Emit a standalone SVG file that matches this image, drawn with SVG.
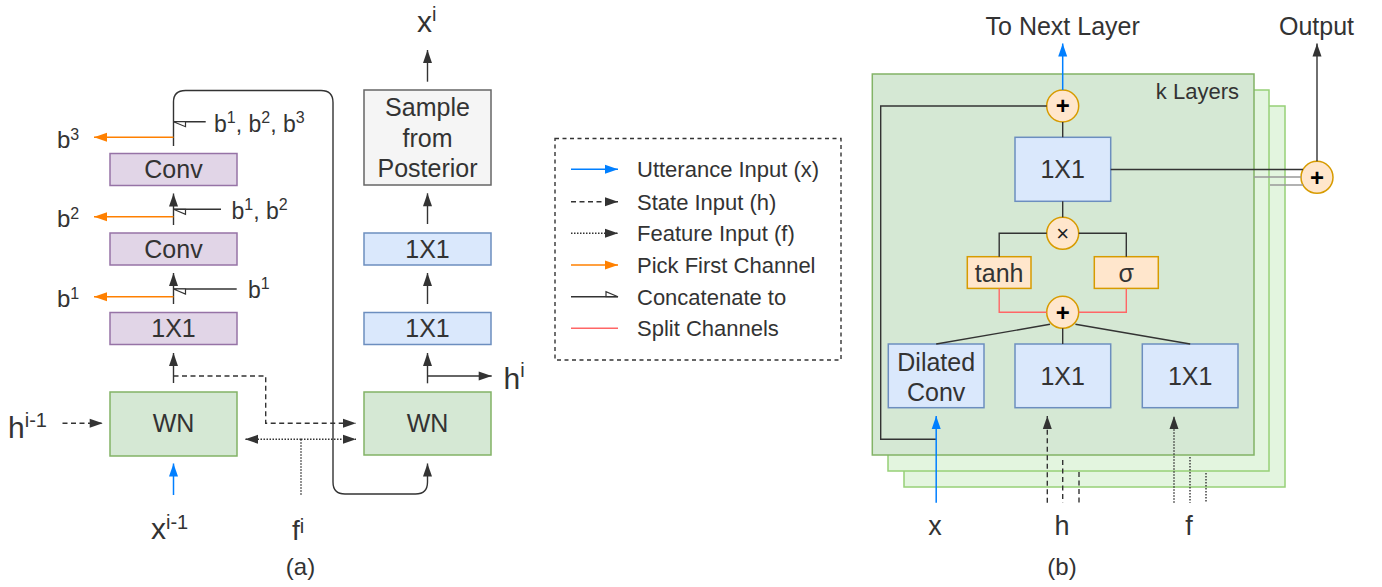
<svg xmlns="http://www.w3.org/2000/svg" width="1382" height="587" viewBox="0 0 1382 587">
<style>
text{font-family:"Liberation Sans",Arial,Helvetica,sans-serif;fill:#333}
.c{text-anchor:middle}
.bt{font-size:25px}
.lg{font-size:22px}
.lb{font-size:23px}
.big{font-size:30px}
.sp{font-size:16px}
.sx{font-size:20px}
.op{font-size:24px;font-weight:bold;fill:#000;text-anchor:middle}
.pur{fill:#e1d5e7;stroke:#9673a6;stroke-width:1.5}
.grn{fill:#d5e8d4;stroke:#82b366;stroke-width:1.5}
.blu{fill:#dae8fc;stroke:#6c8ebf;stroke-width:1.5}
.gry{fill:#f5f5f5;stroke:#666;stroke-width:1.5}
.org{fill:#ffe6cc;stroke:#d79b00;stroke-width:1.5}
.lay{fill:#e3f5df;stroke:#97d077;stroke-width:1.5}
.k{fill:none;stroke:#333;stroke-width:1.4}
.kd{fill:none;stroke:#333;stroke-width:1.4;stroke-dasharray:5,3.5}
.kt{fill:none;stroke:#333;stroke-width:1.4;stroke-dasharray:1.5,1.5}
.bl{fill:none;stroke:#007fff;stroke-width:1.5}
.or{fill:none;stroke:#ff8000;stroke-width:1.5}
.rd{fill:none;stroke:#ff6666;stroke-width:1.4}
.gl{fill:none;stroke:#999;stroke-width:1.4}
.ak{marker-end:url(#ak)}
.ab{marker-end:url(#ab)}
.ao{marker-end:url(#ao)}
.ac{marker-end:url(#ac)}
</style>
<defs>
<marker id="ak" markerUnits="userSpaceOnUse" markerWidth="14" markerHeight="10" refX="13" refY="5" orient="auto" overflow="visible"><path d="M0,0.5 L13,5 L0,9.5 z" fill="#333"/></marker>
<marker id="ab" markerUnits="userSpaceOnUse" markerWidth="14" markerHeight="10" refX="13" refY="5" orient="auto" overflow="visible"><path d="M0,0.5 L13,5 L0,9.5 z" fill="#007fff"/></marker>
<marker id="ao" markerUnits="userSpaceOnUse" markerWidth="14" markerHeight="10" refX="13" refY="5" orient="auto" overflow="visible"><path d="M0,0.5 L13,5 L0,9.5 z" fill="#ff8000"/></marker>
<marker id="ac" markerUnits="userSpaceOnUse" markerWidth="14" markerHeight="8" refX="13" refY="6" orient="auto" overflow="visible"><path d="M13,6 L1,1 L1,6 z" fill="#fff" stroke="#333" stroke-width="1.2"/></marker>
</defs>

<!-- (a) part: nodes -->
<g id="conv1"><rect class="pur" x="110" y="153.5" width="127" height="32"/><text class="bt c" x="173.5" y="178">Conv</text></g>
<g id="conv2"><rect class="pur" x="110" y="233" width="127" height="32"/><text class="bt c" x="173.5" y="257.5">Conv</text></g>
<g id="p1x1"><rect class="pur" x="110" y="312.5" width="127" height="32"/><text class="bt c" x="173.5" y="336.5">1X1</text></g>
<g id="wn-left"><rect class="grn" x="110" y="392" width="127" height="64"/><text class="bt c" x="173.5" y="432">WN</text></g>
<g id="wn-right"><rect class="grn" x="364" y="392" width="127" height="63"/><text class="bt c" x="427.5" y="432">WN</text></g>
<g id="b1x1-low"><rect class="blu" x="364" y="312.5" width="127" height="32"/><text class="bt c" x="427.5" y="336.5">1X1</text></g>
<g id="b1x1-up"><rect class="blu" x="364" y="233" width="127" height="32"/><text class="bt c" x="427.5" y="257.5">1X1</text></g>
<g id="sample"><rect class="gry" x="364" y="90" width="127" height="95"/><text class="bt c" x="427.5" y="116">Sample</text><text class="bt c" x="427.5" y="146.5">from</text><text class="bt c" x="427.5" y="177">Posterior</text></g>

<!-- (a) labels -->
<g id="labels-a">
<text class="lb" x="57" y="147.5" style="font-size:24px">b<tspan class="sp" dy="-8">3</tspan></text>
<text class="lb" x="57" y="226.5" style="font-size:24px">b<tspan class="sp" dy="-8">2</tspan></text>
<text class="lb" x="57" y="306.5" style="font-size:24px">b<tspan class="sp" dy="-8">1</tspan></text>
<text class="lb" x="214" y="131.5">b<tspan class="sp" dy="-9">1</tspan><tspan dy="9">, b</tspan><tspan class="sp" dy="-9">2</tspan><tspan dy="9">, b</tspan><tspan class="sp" dy="-9">3</tspan></text>
<text class="lb" x="231.5" y="219.3">b<tspan class="sp" dy="-9">1</tspan><tspan dy="9">, b</tspan><tspan class="sp" dy="-9">2</tspan></text>
<text class="lb" x="248" y="298.3">b<tspan class="sp" dy="-9">1</tspan></text>
<text class="big" x="8" y="437.5">h<tspan class="sx" dy="-11">i-1</tspan></text>
<text class="big" x="151" y="539">x<tspan class="sx" dy="-10">i-1</tspan></text>
<text class="big" x="292" y="540" style="font-size:28px">f<tspan class="sx" dy="-7">i</tspan></text>
<text class="big" x="417" y="31.5">x<tspan class="sx" dy="-11">i</tspan></text>
<text class="big" x="503.5" y="389.3">h<tspan class="sx" dy="-12">i</tspan></text>
<text class="c" x="300.5" y="574.5" style="font-size:24px">(a)</text>
</g>

<!-- legend -->
<g id="legend">
<rect x="555" y="138.5" width="286" height="221.5" fill="none" stroke="#333" stroke-width="1.4" stroke-dasharray="4,3.5"/>
<line class="bl ab" x1="571" y1="169.3" x2="618" y2="169.3"/>
<line class="kd ak" x1="571" y1="201.7" x2="618" y2="201.7"/>
<line class="kt ak" x1="571" y1="233.3" x2="618" y2="233.3"/>
<line class="or ao" x1="571" y1="265" x2="618" y2="265"/>
<line class="k ac" x1="571" y1="296.7" x2="618" y2="296.7"/>
<line class="rd" x1="571" y1="328.3" x2="618" y2="328.3"/>
<text class="lg" x="637" y="177.3">Utterance Input (x)</text>
<text class="lg" x="637" y="209.7">State Input (h)</text>
<text class="lg" x="637" y="241.3">Feature Input (f)</text>
<text class="lg" x="637" y="273">Pick First Channel</text>
<text class="lg" x="637" y="304.7">Concatenate to</text>
<text class="lg" x="637" y="336.3">Split Channels</text>
</g>

<!-- (b) part: layers -->
<g id="layer3"><rect class="lay" x="904" y="106" width="381" height="381"/></g>
<g id="layer2"><rect class="lay" x="888" y="90" width="381" height="381"/></g>
<g id="layer1"><rect class="grn" x="872.3" y="74" width="381.7" height="381"/><text class="lg" x="1239" y="99" style="text-anchor:end">k Layers</text></g>
<g id="plus-top"><circle class="org" cx="1062.7" cy="106" r="16"/><text class="op" x="1062.7" y="114.4">+</text></g>
<g id="r1x1-top"><rect class="blu" x="1015" y="137.3" width="95.7" height="64"/><text class="bt c" x="1062.7" y="178.3">1X1</text></g>
<g id="mul"><circle class="org" cx="1062.7" cy="233.3" r="16"/><text class="op" x="1062.7" y="241.3" style="font-size:22px;font-weight:normal;fill:#222">×</text></g>
<g id="tanh"><rect class="org" x="967.3" y="256.7" width="63.7" height="31.7"/><text class="bt c" x="999.2" y="281.5">tanh</text></g>
<g id="sigma"><rect class="org" x="1094.3" y="256.7" width="64" height="31.7"/><text class="bt c" x="1126.3" y="281.5">σ</text></g>
<g id="plus-mid"><circle class="org" cx="1062.7" cy="312.3" r="16"/><text class="op" x="1062.7" y="320.7">+</text></g>
<g id="dilated"><rect class="blu" x="888.3" y="344" width="95.7" height="63.7"/><text class="bt c" x="936.2" y="370.7">Dilated</text><text class="bt c" x="936.2" y="400.7">Conv</text></g>
<g id="r1x1-mid"><rect class="blu" x="1015" y="344" width="95.7" height="63.7"/><text class="bt c" x="1062.7" y="385">1X1</text></g>
<g id="r1x1-right"><rect class="blu" x="1142.3" y="344" width="95.7" height="63.7"/><text class="bt c" x="1190.2" y="385">1X1</text></g>
<g id="plus-out"><circle class="org" cx="1317" cy="177.3" r="16"/><text class="op" x="1317" y="185.7">+</text></g>

<!-- (b) labels -->
<g id="labels-b">
<text class="c" x="1062.7" y="35" style="font-size:25px">To Next Layer</text>
<text class="c" x="1316.5" y="35" style="font-size:25px">Output</text>
<text class="c" x="935" y="535" style="font-size:27px">x</text>
<text class="c" x="1062" y="535" style="font-size:27px">h</text>
<text class="c" x="1189" y="535" style="font-size:27px">f</text>
<text class="c" x="1062" y="574.5" style="font-size:24px">(b)</text>
</g>

<!-- connectors -->
<g id="connectors">
<!-- (a) left trunk -->
<line class="k ak" x1="173.5" y1="383" x2="173.5" y2="353"/>
<line class="k ak" x1="173.5" y1="304" x2="173.5" y2="273"/>
<line class="k ak" x1="173.5" y1="225" x2="173.5" y2="193.5"/>
<path class="k ak" d="M173.5,146 V102 Q173.5,90.5 185.5,90.5 H321 Q333,90.5 333,102.5 V482 Q333,494 345,494 H415.5 Q427.5,494 427.5,482 V463.5"/>
<line class="or ao" x1="173.5" y1="137.3" x2="94" y2="137.3"/>
<line class="or ao" x1="173.5" y1="216.7" x2="94" y2="216.7"/>
<line class="or ao" x1="173.5" y1="296.7" x2="94" y2="296.7"/>
<line class="k ac" x1="205.7" y1="121.7" x2="173.5" y2="121.7"/>
<line class="k ac" x1="221" y1="209.3" x2="173.5" y2="209.3"/>
<line class="k ac" x1="236.7" y1="289" x2="173.5" y2="289"/>
<line class="kd ak" x1="62.5" y1="423.3" x2="102.7" y2="423.3"/>
<path class="kd ak" d="M173.5,376 H265.7 V423.3 H356"/>
<line class="kt ak" x1="301" y1="439.3" x2="245" y2="439.3"/>
<line class="kt ak" x1="301" y1="439.3" x2="356" y2="439.3"/>
<line class="kt" x1="301" y1="439.3" x2="301" y2="495"/>
<line class="bl ab" x1="173.5" y1="495" x2="173.5" y2="463.5"/>
<!-- (a) right column -->
<line class="k ak" x1="427.5" y1="383.3" x2="427.5" y2="353"/>
<line class="k ak" x1="427.5" y1="376" x2="491.7" y2="376"/>
<line class="k ak" x1="427.5" y1="304" x2="427.5" y2="273"/>
<line class="k ak" x1="427.5" y1="224" x2="427.5" y2="193.3"/>
<line class="k ak" x1="427.5" y1="81.7" x2="427.5" y2="50"/>
<!-- (b) -->
<line class="bl ab" x1="1062.7" y1="90" x2="1062.7" y2="43.5"/>
<line class="k" x1="1062.7" y1="122" x2="1062.7" y2="137.3"/>
<line class="k" x1="1062.7" y1="201.3" x2="1062.7" y2="217.3"/>
<path class="k" d="M1046.7,233.3 H999.2 V256.7"/>
<path class="k" d="M1078.7,233.3 H1126.3 V256.7"/>
<path class="rd" d="M999.2,288.4 V312.3 H1046.7"/>
<path class="rd" d="M1126.3,288.4 V312.3 H1078.7"/>
<line class="k" x1="1050" y1="324.3" x2="936.2" y2="344"/>
<line class="k" x1="1075.4" y1="324.3" x2="1190.2" y2="344"/>
<line class="k" x1="1062.7" y1="328.3" x2="1062.7" y2="344"/>
<path class="k" d="M936.2,439.3 H880.7 V106 H1046.7"/>
<line class="bl ab" x1="936.2" y1="502.7" x2="936.2" y2="416"/>
<line class="kd ak" x1="1047.3" y1="502.7" x2="1047.3" y2="416"/>
<line class="kd" x1="1062.7" y1="460" x2="1062.7" y2="502.7"/>
<line class="kd" x1="1079" y1="472" x2="1079" y2="502.7"/>
<line class="kt ak" x1="1174" y1="502.7" x2="1174" y2="416"/>
<line class="kt" x1="1190" y1="457" x2="1190" y2="502.7"/>
<line class="kt" x1="1206" y1="473" x2="1206" y2="502.7"/>
<line class="k" x1="1110.7" y1="169.5" x2="1303" y2="169.5"/>
<line class="gl" x1="1254" y1="177" x2="1301" y2="177"/>
<line class="gl" x1="1270" y1="185" x2="1303" y2="185"/>
<line class="k ak" x1="1317" y1="161.3" x2="1317" y2="43.5"/>
</g>
</svg>
